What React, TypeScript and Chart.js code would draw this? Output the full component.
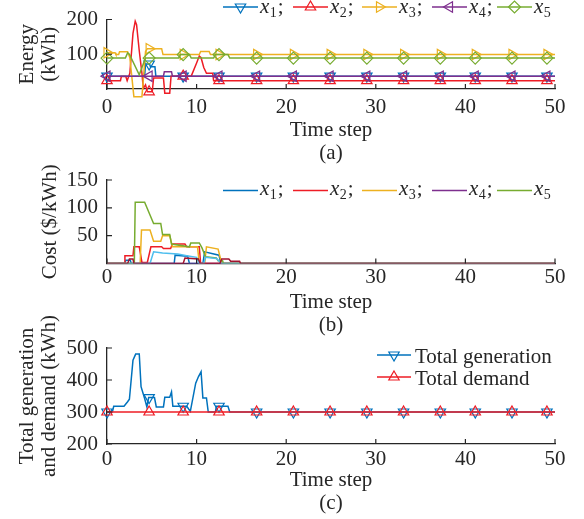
import React, { useEffect, useRef } from 'react';
import { Chart, registerables } from 'chart.js';
import { drawPoint } from 'chart.js/helpers';

Chart.register(...registerables);

const FONT = '"Liberation Serif", "Times New Roman", serif';
const INK = '#262626';
const C_BLUE = '#0072BD';
const C_RED = '#EE1C25';
const C_ORANGE = '#EDB120';
const C_PURPLE = '#7E2F8E';
const C_GREEN = '#77AC30';
const C_CYAN = '#4DBEEE';
const C_MAROON = '#A2142F';

// ---------- shared ----------
const xTickVals = [0, 10, 20, 30, 40, 50];
const markT = [0, 4.7, 8.5, 12.5, 16.7, 20.8, 24.9, 29.0, 33.1, 37.2, 41.1, 45.2, 49.1];

// ---------- (a) Energy ----------
const energyTicks = [100, 200];
const e1T = [0, 4.2, 4.3, 4.75, 4.85, 5.35, 5.45, 50];
const e1V = [37, 37, 72, 72, 64, 64, 37, 37];
const e1M = [37, 72, 37, 37, 37, 37, 37, 37, 37, 37, 37, 37, 37];

const e2T = [0, 1.5, 1.6, 2.1, 2.25, 2.55, 2.9, 3.15, 3.3, 3.6, 3.9, 4.05, 4.3, 4.5, 5.05, 5.2, 6.3, 6.45, 7.0, 7.15, 9.4, 10.0, 10.3, 10.5, 10.8, 11.1, 11.8, 11.9, 50];
const e2V = [24, 24, 36, 36, 24, 45, 160, 195, 185, 110, 45, 2, 12, -8, -8, 32, 32, -12, -12, 37, 37, 75, 95, 90, 62, 45, 45, 24, 24];
const e2M = [24, -8, 37, 24, 24, 24, 24, 24, 24, 24, 24, 24, 24];

const e3T = [0, 0.9, 1.0, 1.3, 1.4, 2.3, 2.55, 3.0, 3.9, 4.3, 4.5, 6.1, 6.25, 10.3, 10.45, 11.4, 11.55, 50];
const e3V = [104, 104, 99, 99, 107, 107, 90, -22, -22, 108, 116, 116, 99, 99, 108, 108, 99, 99];
const e3M = [104, 116, 99, 99, 99, 99, 99, 99, 99, 99, 99, 99, 99];

const e4T = [0, 6.3, 6.4, 7.2, 7.3, 50];
const e4V = [37, 37, 50, 50, 37, 37];
const e4M = [37, 37, 37, 37, 37, 37, 37, 37, 37, 37, 37, 37, 37];

const e5T = [0, 2.05, 2.3, 2.5, 3.6, 4.3, 8.0, 8.2, 9.2, 9.4, 11.9, 12.1, 13.5, 13.7, 50];
const e5V = [89, 89, 104, 100, 41, 89, 89, 99, 99, 89, 89, 99, 99, 89, 89];
const e5M = [89, 89, 99, 99, 89, 89, 89, 89, 89, 89, 89, 89, 89];

// ---------- (b) Cost ----------
const costTicks = [50, 100, 150];
const c1T = [0, 2.0, 2.1, 2.6, 2.7, 7.5, 7.6, 9.0, 9.2, 10.7, 10.9, 12.5, 12.7, 50];
const c1V = [0, 0, 6, 6, 0, 0, 15, 13, 0, 0, 21, 15, 0, 0];
const c2T = [0, 1.9, 2.0, 2.9, 3.0, 3.6, 3.9, 4.5, 4.9, 6.1, 6.3, 7.1, 7.3, 8.7, 8.9, 10.3, 10.45, 50];
const c2V = [0, 0, 14, 14, 30, 30, 2, 2, 30, 30, 27, 27, 35, 35, 30, 30, 0, 0];
const c3T = [0, 3.7, 3.85, 4.8, 5.2, 6.0, 6.2, 7.0, 7.3, 10.1, 10.3, 10.9, 11.1, 12.4, 12.8, 50];
const c3V = [0, 0, 60, 60, 40, 40, 50, 50, 30, 30, 0, 0, 30, 26, 0, 0];
const c4T = [0, 50];
const c4V = [0, 0];
const c5T = [0, 3.05, 3.15, 4.2, 5.2, 6.0, 6.2, 7.0, 7.2, 9.2, 9.35, 10.3, 10.6, 11.0, 12.2, 12.4, 12.9, 13.0, 50];
const c5V = [0, 0, 110, 110, 72, 72, 52, 52, 35, 30, 37, 37, 28, 12, 10, 5, 5, 0, 0];
const c6T = [0, 4.8, 5.2, 6.2, 7.9, 8.9, 10.0, 10.3, 10.8, 11.0, 12.2, 12.8, 50];
const c6V = [0, 0, 21, 19, 17, 14, 11, 0, 0, 11, 9, 0, 0];
const c7T = [0, 2.3, 2.5, 2.9, 3.0, 8.5, 8.7, 10.2, 10.4, 12.6, 12.8, 13.6, 13.8, 14.8, 14.9, 50];
const c7V = [0, 0, 8, 8, 0, 0, 10, 8, 0, 0, 8, 8, 4, 4, 0, 0];

// ---------- (c) Totals ----------
const totalTicks = [200, 300, 400, 500];
const genT = [0, 0.6, 0.75, 1.9, 2.3, 2.5, 2.9, 3.2, 3.6, 3.8, 4.2, 4.45, 4.65, 5.3, 5.5, 6.3, 6.45, 7.0, 7.2, 7.35, 8.9, 9.3, 9.9, 10.2, 10.5, 10.7, 11.1, 11.3, 12.1, 12.2, 13.5, 13.7, 50];
const genV = [300, 300, 318, 318, 332, 340, 462, 481, 481, 379, 342, 316, 345, 345, 316, 316, 346, 346, 363, 318, 318, 302, 390, 410, 426, 344, 344, 300, 300, 318, 318, 300, 300];
const genM = [300, 345, 318, 318, 300, 300, 300, 300, 300, 300, 300, 300, 300];
const demT = [0, 50];
const demV = [300, 300];
const demM = [300, 300, 300, 300, 300, 300, 300, 300, 300, 300, 300, 300, 300];

const legendSubs = ['1', '2', '3', '4', '5'];

// ---------- helpers ----------
const pts = (t: number[], v: number[]) => t.map((x, i) => ({ x, y: v[i] }));

function lineDs(t: number[], v: number[], color: string, order: number, extra: any = {}) {
  return {
    data: pts(t, v),
    borderColor: color,
    backgroundColor: color,
    borderWidth: 1.5,
    pointRadius: 0,
    tension: 0,
    fill: false,
    order,
    ...extra,
  };
}

function markDs(t: number[], v: number[], color: string, style: string, rot: number, order: number) {
  return {
    data: pts(t, v),
    showLine: false,
    borderColor: color,
    pointStyle: style,
    pointRotation: rot,
    pointRadius: 6,
    pointBorderColor: color,
    pointBackgroundColor: 'rgba(0,0,0,0)',
    pointBorderWidth: 1.2,
    order,
    clip: false,
  };
}

const innerTicks = {
  id: 'innerTicks',
  afterDraw(chart: any) {
    const { ctx, chartArea, scales } = chart;
    const xs = scales.x;
    const ys = scales.y;
    ctx.save();
    ctx.strokeStyle = INK;
    ctx.lineWidth = 1.2;
    ctx.beginPath();
    for (const t of xs.ticks) {
      const px = xs.getPixelForValue(t.value);
      ctx.moveTo(px, chartArea.bottom);
      ctx.lineTo(px, chartArea.bottom - 5);
    }
    for (const t of ys.ticks) {
      const py = ys.getPixelForValue(t.value);
      ctx.moveTo(chartArea.left, py);
      ctx.lineTo(chartArea.left + 5, py);
    }
    ctx.stroke();
    ctx.restore();
  },
};

type LegItem = { color: string; style?: string; rot?: number };

function rowLegend(id: string, items: LegItem[], starts: number[], lineY: number, baseY: number, markers: boolean) {
  return {
    id,
    afterDraw(chart: any) {
      const ctx = chart.ctx;
      ctx.save();
      items.forEach((it, i) => {
        const x0 = starts[i];
        ctx.strokeStyle = it.color;
        ctx.lineWidth = 1.5;
        ctx.beginPath();
        ctx.moveTo(x0, lineY);
        ctx.lineTo(x0 + 35, lineY);
        ctx.stroke();
        if (markers && it.style) {
          ctx.fillStyle = 'rgba(0,0,0,0)';
          ctx.lineWidth = 1.2;
          drawPoint(ctx, { pointStyle: it.style, rotation: it.rot || 0, radius: 6, borderWidth: 1.2 } as any, x0 + 17.5, lineY);
        }
        let tx = x0 + 37;
        ctx.fillStyle = INK;
        ctx.textAlign = 'left';
        ctx.textBaseline = 'alphabetic';
        ctx.font = `italic 21px ${FONT}`;
        ctx.fillText('x', tx, baseY);
        tx += ctx.measureText('x').width + 0.5;
        ctx.font = `14px ${FONT}`;
        ctx.fillText(legendSubs[i], tx, baseY + 4);
        tx += ctx.measureText(legendSubs[i]).width;
        if (i < items.length - 1) {
          ctx.font = `21px ${FONT}`;
          ctx.fillText(';', tx + 1, baseY);
        }
      });
      ctx.restore();
    },
  };
}

const totalLegend = {
  id: 'totalLegend',
  afterDraw(chart: any) {
    const ctx = chart.ctx;
    const rows = [
      { label: 'Total generation', color: C_BLUE, rot: 180, y: 55 },
      { label: 'Total demand', color: C_RED, rot: 0, y: 77 },
    ];
    ctx.save();
    rows.forEach((r) => {
      ctx.strokeStyle = r.color;
      ctx.lineWidth = 1.5;
      ctx.beginPath();
      ctx.moveTo(377, r.y);
      ctx.lineTo(411, r.y);
      ctx.stroke();
      ctx.fillStyle = 'rgba(0,0,0,0)';
      ctx.lineWidth = 1.2;
      drawPoint(ctx, { pointStyle: 'triangle', rotation: r.rot, radius: 6, borderWidth: 1.2 } as any, 394, r.y);
      ctx.fillStyle = INK;
      ctx.textAlign = 'left';
      ctx.textBaseline = 'alphabetic';
      ctx.font = `21px ${FONT}`;
      ctx.fillText(r.label, 415, r.y + 7.5);
    });
    ctx.restore();
  },
};

function scalesFor(o: {
  yMin: number; yMax: number; yTicks: number[]; yTitle: string | string[]; yTitlePad: number;
  panel: string; xTickPad: number; xHeight: number; xTitlePad: number;
}) {
  const tickFont = { family: FONT, size: 21, lineHeight: 1 };
  return {
    x: {
      type: 'linear',
      min: 0,
      max: 50,
      afterBuildTicks: (s: any) => { s.ticks = xTickVals.map((v) => ({ value: v })); },
      afterFit: (s: any) => { s.height = o.xHeight; },
      grid: { display: true, drawOnChartArea: false, drawTicks: false },
      border: { display: true, color: INK, width: 1.3 },
      ticks: { color: INK, font: tickFont, padding: o.xTickPad, maxRotation: 0, autoSkip: false },
      title: {
        display: true,
        text: ['Time step', o.panel],
        color: INK,
        font: { family: FONT, size: 21, lineHeight: 23 / 21 },
        padding: { top: 0, bottom: o.xTitlePad },
      },
    },
    y: {
      type: 'linear',
      min: o.yMin,
      max: o.yMax,
      afterBuildTicks: (s: any) => { s.ticks = o.yTicks.map((v) => ({ value: v })); },
      afterFit: (s: any) => { s.width = 107; },
      grid: { display: true, drawOnChartArea: false, drawTicks: false },
      border: { display: true, color: INK, width: 1.3 },
      ticks: { color: INK, font: tickFont, padding: 9 },
      title: {
        display: true,
        text: o.yTitle,
        color: INK,
        font: { family: FONT, size: 21, lineHeight: 22 / 21 },
        padding: { top: o.yTitlePad, bottom: 0 },
      },
    },
  };
}

function baseOptions(scales: any, padTop: number) {
  return {
    responsive: false,
    animation: false,
    devicePixelRatio: 1,
    events: [],
    layout: { padding: { left: 0, right: 29, top: padTop, bottom: 0 } },
    plugins: { legend: { display: false }, tooltip: { enabled: false } },
    scales,
  };
}

function configA(): any {
  const nc = { clip: false };
  return {
    type: 'line',
    data: {
      datasets: [
        lineDs(e1T, e1V, C_BLUE, 50, nc), markDs(markT, e1M, C_BLUE, 'triangle', 180, 49),
        lineDs(e2T, e2V, C_RED, 40, nc), markDs(markT, e2M, C_RED, 'triangle', 0, 39),
        lineDs(e3T, e3V, C_ORANGE, 30, nc), markDs(markT, e3M, C_ORANGE, 'triangle', 90, 29),
        lineDs(e4T, e4V, C_PURPLE, 20, nc), markDs(markT, e4M, C_PURPLE, 'triangle', 270, 19),
        lineDs(e5T, e5V, C_GREEN, 10, nc), markDs(markT, e5M, C_GREEN, 'rectRot', 0, 9),
      ],
    },
    options: baseOptions(
      scalesFor({ yMin: 0, yMax: 200, yTicks: energyTicks, yTitle: ['Energy', '(kWh)'], yTitlePad: 16, panel: '(a)', xTickPad: 8, xHeight: 76, xTitlePad: 0.5 }),
      15,
    ),
    plugins: [
      innerTicks,
      rowLegend('legA', [
        { color: C_BLUE, style: 'triangle', rot: 180 },
        { color: C_RED, style: 'triangle', rot: 0 },
        { color: C_ORANGE, style: 'triangle', rot: 90 },
        { color: C_PURPLE, style: 'triangle', rot: 270 },
        { color: C_GREEN, style: 'rectRot', rot: 0 },
      ], [223, 293, 362, 432, 497], 7, 12.5, true),
    ],
  };
}

function configB(): any {
  return {
    type: 'line',
    data: {
      datasets: [
        lineDs(c1T, c1V, C_BLUE, 70),
        lineDs(c2T, c2V, C_RED, 60),
        lineDs(c3T, c3V, C_ORANGE, 50),
        lineDs(c4T, c4V, C_PURPLE, 40),
        lineDs(c5T, c5V, C_GREEN, 30),
        lineDs(c6T, c6V, C_CYAN, 20),
        lineDs(c7T, c7V, C_MAROON, 10),
      ],
    },
    options: baseOptions(
      scalesFor({ yMin: 0, yMax: 150, yTicks: costTicks, yTitle: 'Cost ($/kWh)', yTitlePad: 39, panel: '(b)', xTickPad: 3, xHeight: 73.5, xTitlePad: 0.5 }),
      20,
    ),
    plugins: [
      innerTicks,
      rowLegend('legB', [
        { color: C_BLUE }, { color: C_RED }, { color: C_ORANGE }, { color: C_PURPLE }, { color: C_GREEN },
      ], [223, 293, 362, 432, 497], 30.5, 34.5, false),
    ],
  };
}

function configC(): any {
  return {
    type: 'line',
    data: {
      datasets: [
        lineDs(genT, genV, C_BLUE, 20), markDs(markT, genM, C_BLUE, 'triangle', 180, 19),
        lineDs(demT, demV, C_RED, 10), markDs(markT, demM, C_RED, 'triangle', 0, 9),
      ],
    },
    options: baseOptions(
      scalesFor({ yMin: 200, yMax: 500, yTicks: totalTicks, yTitle: ['Total generation', 'and demand (kWh)'], yTitlePad: 16, panel: '(c)', xTickPad: 4.5, xHeight: 75, xTitlePad: 4.5 }),
      48,
    ),
    plugins: [innerTicks, totalLegend],
  };
}

export default function App() {
  const aRef = useRef<HTMLCanvasElement>(null);
  const bRef = useRef<HTMLCanvasElement>(null);
  const cRef = useRef<HTMLCanvasElement>(null);

  useEffect(() => {
    const charts = [
      new Chart(aRef.current as HTMLCanvasElement, configA()),
      new Chart(bRef.current as HTMLCanvasElement, configB()),
      new Chart(cRef.current as HTMLCanvasElement, configC()),
    ];
    return () => charts.forEach((c) => c.destroy());
  }, []);

  const cs = (top: number, h: number): React.CSSProperties => ({
    position: 'absolute', left: 0, top, width: 584, height: h, display: 'block',
  });

  return (
    <div style={{ position: 'absolute', left: 0, top: 0, width: 584, height: 519, background: '#fff' }}>
      <canvas ref={aRef} width={584} height={165} style={cs(0, 165)} />
      <canvas ref={bRef} width={584} height={177} style={cs(160, 177)} />
      <canvas ref={cRef} width={584} height={219} style={cs(300, 219)} />
    </div>
  );
}
